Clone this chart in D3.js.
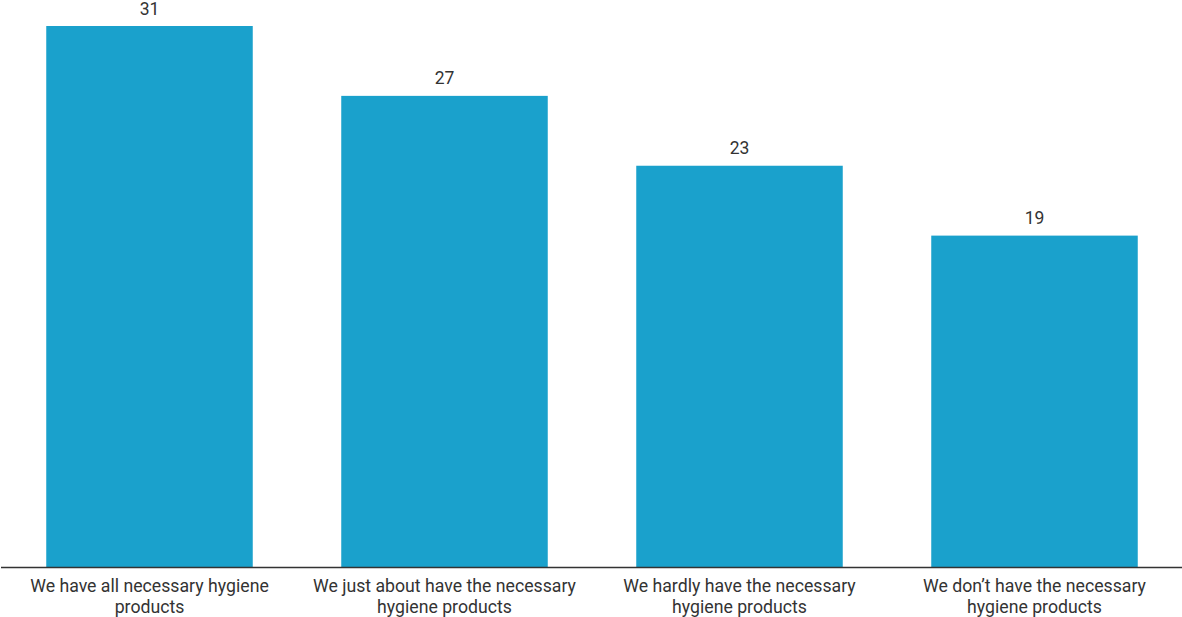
<!DOCTYPE html>
<html><head><meta charset="utf-8">
<script src="https://cdn.jsdelivr.net/npm/d3@7"></script>
<style>body{margin:0;background:#fff;}svg{display:block;font-family:Roboto,sans-serif;}</style>
</head><body>
<script>
const categories = [
  ["We have all necessary hygiene", "products"],
  ["We just about have the necessary", "hygiene products"],
  ["We hardly have the necessary", "hygiene products"],
  ["We don\u2019t have the necessary", "hygiene products"]
];
const values = [31, 27, 23, 19];

const W = 1182, H = 617;
const svg = d3.select("body").append("svg").attr("width", W).attr("height", H);
const x = d3.scaleBand().domain(d3.range(values.length)).range([2, 1182]).paddingInner(0.3).paddingOuter(0.15);
const y = d3.scaleLinear().domain([0, 31]).range([567.5, 26]);

svg.selectAll("rect.bar").data(values).join("rect").attr("class", "bar")
  .attr("x", (d, i) => x(i)).attr("width", x.bandwidth())
  .attr("y", d => y(d)).attr("height", d => y(0) - y(d))
  .attr("fill", "#1aa1cc");

svg.selectAll("text.val").data(values).join("text").attr("class", "val")
  .attr("x", (d, i) => x(i) + x.bandwidth() / 2).attr("y", d => y(d) - 11.5)
  .attr("text-anchor", "middle").attr("font-size", 17.5).attr("fill", "#333")
  .text(d => d);

const axis = d3.axisBottom(x).tickSize(0).tickFormat("");
const g = svg.append("g").attr("transform", `translate(0,${y(0)})`).call(axis);
g.select(".domain").attr("stroke", "#333").attr("stroke-width", 1.5).attr("d", "M1,0H1182");

const lab = svg.selectAll("text.cat").data(categories).join("text").attr("class", "cat")
  .attr("text-anchor", "middle").attr("font-size", 17.7).attr("fill", "#333");
lab.each(function(lines, i) {
  const t = d3.select(this);
  lines.forEach((l, j) => t.append("tspan").attr("x", x(i) + x.bandwidth() / 2).attr("y", 592 + j * 20.5).text(l));
});
</script>
</body></html>
